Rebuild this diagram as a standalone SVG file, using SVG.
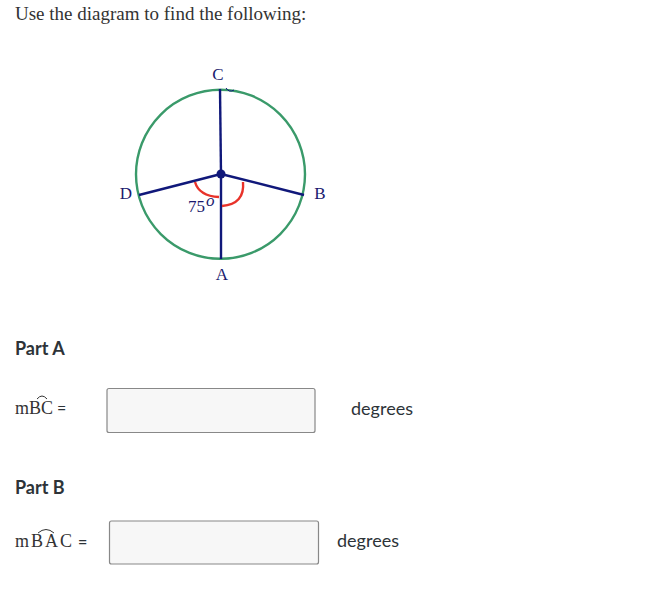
<svg xmlns="http://www.w3.org/2000/svg" width="657" height="604" viewBox="0 0 657 604">
<style>
.serif{font-family:"Liberation Serif","Times New Roman",serif}
.sans{font-family:Lato,"Open Sans","Liberation Sans",sans-serif;fill:#2d3338}
.lbl{font-family:"Liberation Serif",serif;font-size:17px;fill:#1a1a6e}
.seg{stroke:#10187a;stroke-width:2.4;fill:none}
.red{stroke:#e8322a;stroke-width:2.4;fill:none}
.box{fill:#f7f7f7;stroke:#888;stroke-width:1.2}
</style>
<rect width="657" height="604" fill="#fff"/>
<text x="15" y="20" class="serif" font-size="19" fill="#333">Use the diagram to find the following:</text>
<g id="figure">
<circle id="circle" cx="220.5" cy="174.3" r="84.5" fill="none" stroke="#3a9a6a" stroke-width="2.4"/>
<g id="connectors">
<line class="seg" x1="221" y1="174" x2="220" y2="89"/>
<line class="seg" x1="221" y1="174" x2="221" y2="259"/>
<line class="seg" x1="221" y1="174" x2="139" y2="195"/>
<line class="seg" x1="221" y1="174" x2="304" y2="195"/>
<path class="red" d="M195,182 Q199,196 219,197"/>
<path class="red" d="M243,182 Q245,204 222,206"/>
<path d="M226,88 Q229,93 234,90" fill="none" stroke="#10187a" stroke-width="1"/>
</g>
<circle id="center" cx="221" cy="174" r="4.5" fill="#10187a"/>
<g id="C"><text x="218" y="80" class="lbl" text-anchor="middle">C</text></g>
<g id="D"><text x="126" y="199" class="lbl" text-anchor="middle" fill="#222">D</text></g>
<g id="B"><text x="320" y="199" class="lbl" text-anchor="middle">B</text></g>
<g id="A"><text x="222" y="280" class="lbl" text-anchor="middle">A</text></g>
<g id="angle"><text x="188" y="212" class="lbl" font-size="15">75</text><text x="206" y="206" class="lbl" font-size="9" font-style="italic">o</text></g>
</g>
<g id="partA">
<text x="15" y="355" class="sans" font-size="18" font-weight="bold">Part A</text>
<text x="15" y="414" class="serif" font-size="18" fill="#333" textLength="38">mBC</text>
<path d="M37,399 Q42,393 47,399" fill="none" stroke="#333" stroke-width="1"/>
<text x="57" y="414" class="sans" font-size="16">=</text>
<rect class="box" x="107" y="388.5" width="208" height="44" rx="2"/>
<text x="351" y="415" class="sans" font-size="18">degrees</text>
</g>
<g id="partB">
<text x="15" y="547" class="serif" font-size="18" fill="#333" textLength="57">mBAC</text>
<text x="15" y="494" class="sans" font-size="18" font-weight="bold">Part B</text>
<path d="M38,533 Q46,526 54,533" fill="none" stroke="#333" stroke-width="1"/>
<text x="78" y="547" class="sans" font-size="16" font-weight="bold">=</text>
<rect class="box" x="109.5" y="521" width="209" height="43" rx="2"/>
<text x="337" y="547" class="sans" font-size="18">degrees</text>
</g>
</svg>
